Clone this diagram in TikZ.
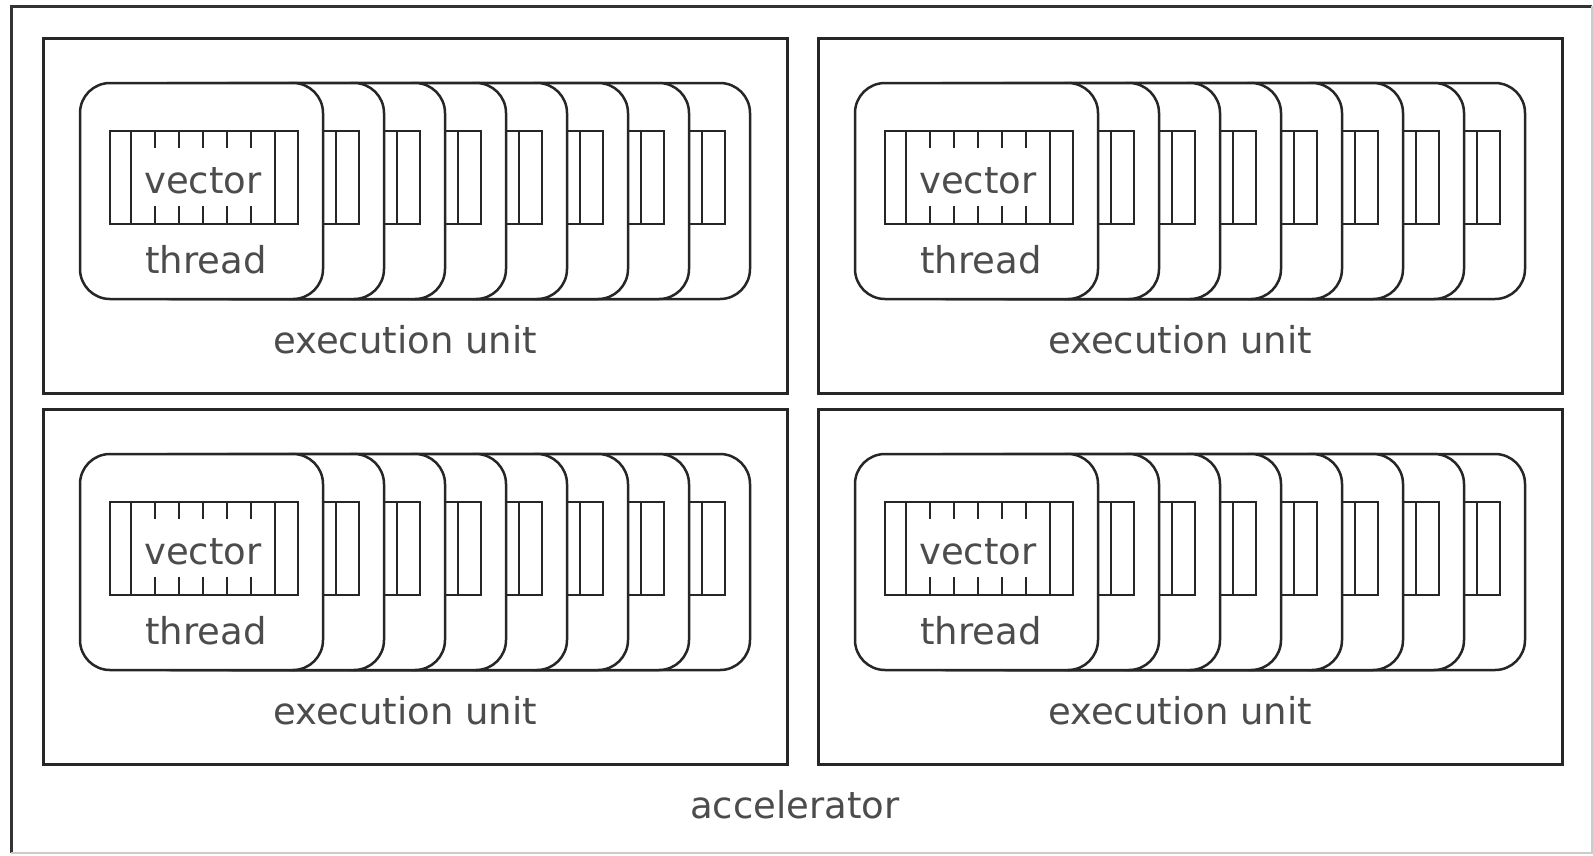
\documentclass[tikz,border=0pt]{standalone}
\usepackage{fontspec}
\setmainfont{DejaVu Sans}
\tikzset{
  eubox/.style={draw=black!85, line width=3pt},
  thr/.style={draw=black!85, fill=white, line width=2.5pt, rounded corners=30pt},
  vec/.style={draw=black!85, line width=2.5pt},
  lbl/.style={font=\fontsize{37}{44}\selectfont, text=black!70, inner sep=0pt, anchor=base},
}
\newcommand\mythreadstack{%
  \foreach \i in {7,6,...,0} {
    \begin{scope}[shift={({61*\i},0)}]
      \draw[thr] (80,83) rectangle (323,299);
      \draw[vec] (110,131) rectangle (298,224);
      \draw[vec] (131,131) -- (131,224) (275,131) -- (275,224);
      \foreach \t in {155,179,203,227,251}
        \draw[vec] (\t,131) -- (\t,148) (\t,206) -- (\t,224);
    \end{scope}
  }%
}
\begin{document}
\begin{tikzpicture}[x=1pt, y=-1pt]
  \useasboundingbox (0,0) rectangle (1593,855);
  \fill[white] (0,0) rectangle (1593,855);
  % accelerator border
  \draw[line width=3pt, draw=black!80] (11,853) -- (11,6) -- (1592,6);
  \draw[line width=1.5pt, draw=black!20] (1592,6) -- (1592,853) -- (11,853);
  \foreach \cx/\cy/\n in {0/0/a, 775/0/b, 0/371/c, 775/371/d} {
    \begin{scope}[shift={(\cx,\cy)}]
      \draw[eubox] (43,38) rectangle (787,393);
      \mythreadstack
      \node[lbl] (vec\n) at (203,193) {vector};
      \node[lbl] (thr\n) at (206,273) {thread};
      \node[lbl] (eu\n) at (405,353) {execution unit};
    \end{scope}
  }
  \node[lbl] (acc) at (795,818) {accelerator};
\end{tikzpicture}
\end{document}
